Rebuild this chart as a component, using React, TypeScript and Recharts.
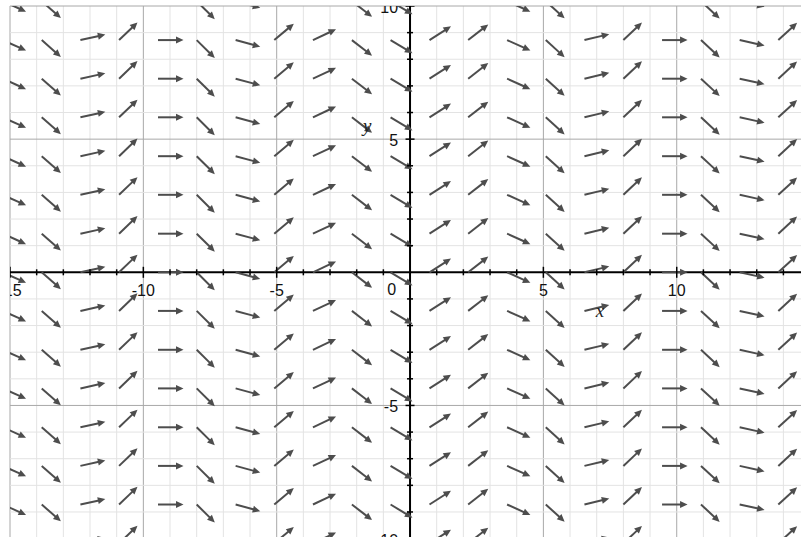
import React from 'react'
import { ScatterChart, Scatter, XAxis, YAxis, ReferenceLine } from 'recharts'

// slope field dy/dx: one slope per column, same in every row
const COLS = [-15.27, -13.81, -12.36, -10.91, -9.45, -8.0, -6.54, -5.09, -3.64, -2.18, -0.73,
  0.73, 2.18, 3.64, 5.09, 6.54, 8.0, 9.45, 10.91, 12.36, 13.81]
const SLOPES = [-0.45, -0.88, 0.22, 0.96, 0.0, -0.99, -0.27, 0.84, 0.47, -0.77, -0.6,
  0.64, 0.78, -0.45, -0.91, 0.24, 0.94, 0.0, -0.93, -0.22, 0.92]
const ROWS = [-10.18, -8.72, -7.27, -5.82, -4.36, -2.91, -1.45, 0, 1.45, 2.91, 4.36, 5.82, 7.27, 8.72, 10.18]

const GRID_X = [-15, -14, -13, -12, -11, -10, -9, -8, -7, -6, -5, -4, -3, -2, -1,
  1, 2, 3, 4, 5, 6, 7, 8, 9, 10, 11, 12, 13, 14]
const GRID_Y = [-9, -8, -7, -6, -5, -4, -3, -2, -1, 1, 2, 3, 4, 5, 6, 7, 8, 9, 10]
const TICK_Y = [-10, ...GRID_Y]
const X_LABELS = [-15, -10, -5, 5, 10]
const Y_LABELS = [-10, -5, 5, 10]

const arrows = ROWS.flatMap((y) => COLS.map((x, i) => ({ x, y, slope: SLOPES[i] })))
const xTicks = GRID_X.map((x) => ({ x, y: 0 }))
const yTicks = TICK_Y.map((y) => ({ x: 0, y }))
const axisNames = [
  { x: 7.12, y: -1.68, name: 'x' },
  { x: -1.61, y: 5.25, name: 'y' },
]

const ARROW = '#4d4d4d'
const MINOR = '#e3e3e3'
const MAJOR = '#a8a8a8'
const FONT = '"Liberation Sans", Arial, sans-serif'

const Arrow = (props: any) => {
  const { cx, cy, payload } = props
  const a = Math.atan(payload.slope)
  const len = 25.5
  const head = 7.5
  const ux = Math.cos(a)
  const uy = -Math.sin(a)
  const tx = cx + ux * len
  const ty = cy + uy * len
  const bx = tx - ux * head
  const by = ty - uy * head
  return (
    <g>
      <line x1={cx} y1={cy} x2={bx + ux} y2={by + uy} stroke={ARROW} strokeWidth={2} />
      <polygon
        points={`${tx},${ty} ${bx - uy * 3.5},${by + ux * 3.5} ${bx + uy * 3.5},${by - ux * 3.5}`}
        fill={ARROW}
      />
    </g>
  )
}

const XTick = (props: any) => {
  const { cx, cy, payload } = props
  const major = payload.x % 5 === 0
  const h = major ? 5.5 : 3
  return (
    <g>
      <line x1={cx} y1={cy - h} x2={cx} y2={cy + h} stroke='#000' strokeWidth={1.5} />
      {X_LABELS.includes(payload.x) && (
        <text x={cx} y={cy + 24} textAnchor='middle' fontFamily={FONT} fontSize={16} fill='#111'>
          {payload.x}
        </text>
      )}
    </g>
  )
}

const YTick = (props: any) => {
  const { cx, cy, payload } = props
  const major = payload.y % 5 === 0
  const h = major ? 4.5 : 3
  return (
    <g>
      <line x1={cx - h} y1={cy} x2={cx + h} y2={cy} stroke='#000' strokeWidth={1.5} />
      {Y_LABELS.includes(payload.y) && (
        <text x={cx - 12} y={cy + 7} textAnchor='end' fontFamily={FONT} fontSize={16} fill='#111'>
          {payload.y}
        </text>
      )}
      {payload.y === 1 && (
        <text x={cx - 14} y={cy + 49.6} textAnchor='end' fontFamily={FONT} fontSize={16} fill='#111'>
          0
        </text>
      )}
    </g>
  )
}

const AxisName = (props: any) => {
  const { cx, cy, payload } = props
  return (
    <text x={cx} y={cy} textAnchor='middle' fontFamily='"Liberation Serif", "DejaVu Serif", serif'
      fontStyle='italic' fontSize={19} fill='#222'>
      {payload.name}
    </text>
  )
}

export default function App() {
  return (
    <div style={{ position: 'absolute', left: 0, top: 0, background: '#fff' }}>
      <ScatterChart width={801} height={537} margin={{ top: 6, right: 0, bottom: 0, left: 10 }}>
        <XAxis type='number' dataKey='x' domain={[-15, 14.66]} hide allowDataOverflow />
        <YAxis type='number' dataKey='y' domain={[-9.94, 10]} hide allowDataOverflow />
        {GRID_X.map((x) => (
          <ReferenceLine key={'gx' + x} x={x} stroke={x % 5 === 0 ? MAJOR : MINOR} strokeWidth={1} />
        ))}
        {GRID_Y.map((y) => (
          <ReferenceLine key={'gy' + y} y={y} stroke={y % 5 === 0 ? MAJOR : MINOR} strokeWidth={1} />
        ))}
        <Scatter data={arrows} shape={Arrow} isAnimationActive={false} />
        <ReferenceLine x={0} stroke='#000' strokeWidth={2} />
        <ReferenceLine y={0} stroke='#000' strokeWidth={2} />
        <Scatter data={xTicks} shape={XTick} isAnimationActive={false} />
        <Scatter data={yTicks} shape={YTick} isAnimationActive={false} />
        <Scatter data={axisNames} shape={AxisName} isAnimationActive={false} />
      </ScatterChart>
    </div>
  )
}
